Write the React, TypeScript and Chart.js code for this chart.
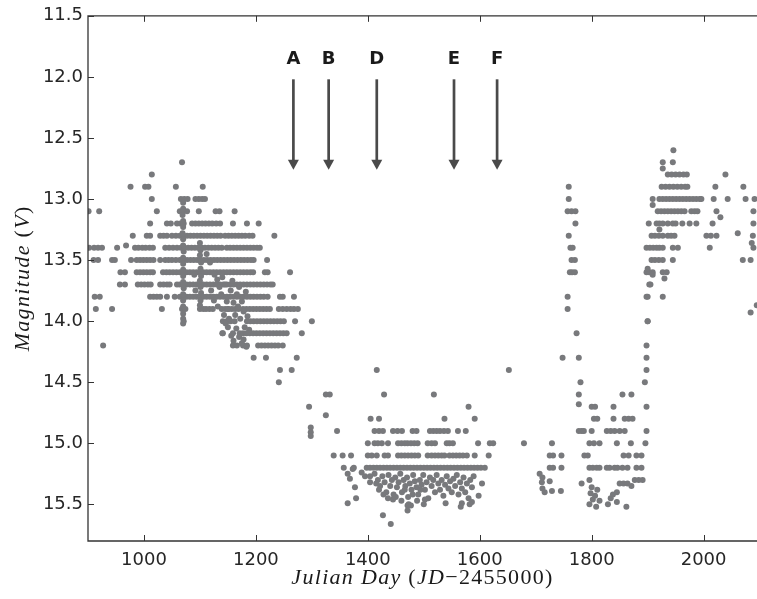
import React, { useEffect, useRef } from "react";
import { Chart, registerables } from "chart.js";

Chart.register(...registerables);

// ---------- axes ----------
const X_MIN = 900;
const X_MAX = 2095.4;
const Y_MIN = 11.5;
const Y_MAX = 15.8;
const xTickValues = [1000, 1200, 1400, 1600, 1800, 2000];
const yTickValues = [11.5, 12.0, 12.5, 13.0, 13.5, 14.0, 14.5, 15.0, 15.5];

// ---------- event markers ----------
const markerLabels = ["A", "B", "D", "E", "F"];
const markerDays = [1267, 1330, 1416, 1554, 1631];
const arrowTopMag = 12.02;
const arrowTipMag = 12.76;
const markerLabelMag = 11.855;

// ---------- observations: [magnitude, days[]] rows and free [day, mag] points ----------
const season1Rows: Array<[number, number[]]> = [
  [12.7, [1068]],
  [12.8, [1014]],
  [12.9, [976, 1002, 1008, 1057, 1105]],
  [13.0, [1014, 1066, 1072, 1078, 1092, 1098, 1104, 1109]],
  [13.1, [901, 920, 1023, 1064, 1070, 1077, 1098, 1128, 1135, 1162]],
  [13.2, [1011, 1041, 1048, 1059, 1065, 1071, 1086, 1092, 1098, 1104, 1110, 1116, 1122, 1129, 1136, 1159, 1184, 1205]],
  [13.3, [980, 1005, 1011, 1029, 1035, 1041, 1050, 1057, 1064, 1070, 1077, 1083, 1089, 1095, 1101, 1107, 1113, 1119, 1125, 1131, 1137, 1145, 1151, 1157, 1163, 1169, 1175, 1181, 1188, 1194, 1233]],
  [13.4, [902, 911, 918, 925, 952, 984, 990, 997, 1003, 1010, 1016, 1038, 1045, 1052, 1059, 1066, 1072, 1079, 1085, 1091, 1097, 1103, 1109, 1115, 1121, 1127, 1133, 1139, 1148, 1154, 1160, 1166, 1172, 1178, 1184, 1190, 1196, 1202, 1207]],
  [13.5, [910, 918, 943, 948, 977, 987, 993, 999, 1005, 1011, 1017, 1029, 1038, 1044, 1050, 1057, 1064, 1070, 1077, 1083, 1089, 1095, 1101, 1107, 1113, 1119, 1125, 1131, 1137, 1143, 1149, 1155, 1161, 1167, 1173, 1179, 1185, 1191, 1196, 1220]],
  [13.6, [958, 966, 987, 993, 999, 1005, 1011, 1016, 1034, 1040, 1046, 1052, 1058, 1064, 1070, 1076, 1082, 1088, 1094, 1100, 1106, 1112, 1118, 1124, 1130, 1136, 1142, 1148, 1154, 1160, 1166, 1172, 1178, 1184, 1190, 1195, 1216, 1221, 1261]],
  [13.7, [957, 966, 989, 995, 1001, 1007, 1012, 1029, 1035, 1041, 1046, 1059, 1064, 1070, 1076, 1082, 1088, 1094, 1100, 1106, 1112, 1118, 1124, 1130, 1136, 1142, 1148, 1154, 1160, 1166, 1172, 1178, 1184, 1190, 1196, 1202, 1208, 1214, 1220, 1226, 1230]],
  [13.8, [912, 921, 1011, 1017, 1023, 1029, 1041, 1055, 1064, 1070, 1076, 1082, 1088, 1094, 1100, 1106, 1112, 1118, 1124, 1130, 1136, 1142, 1148, 1154, 1160, 1166, 1172, 1178, 1184, 1190, 1196, 1202, 1208, 1214, 1221, 1243, 1248, 1268]],
  [13.9, [914, 943, 1032, 1068, 1074, 1100, 1106, 1111, 1117, 1123, 1139, 1145, 1151, 1157, 1163, 1169, 1177, 1183, 1189, 1195, 1201, 1207, 1213, 1219, 1225, 1241, 1248, 1255, 1262, 1268, 1275]],
  [14.0, [1071, 1141, 1148, 1155, 1162, 1184, 1190, 1196, 1202, 1208, 1214, 1220, 1226, 1232, 1238, 1244, 1250, 1270, 1300]],
  [14.1, [1141, 1159, 1171, 1177, 1183, 1189, 1195, 1201, 1207, 1213, 1219, 1225, 1231, 1237, 1243, 1249, 1255, 1282]],
  [14.2, [927, 1159, 1166, 1177, 1184, 1204, 1210, 1216, 1222, 1228, 1234, 1240, 1248]],
  [14.3, [1196, 1218, 1273]],
  [14.4, [1243, 1264]],
  [14.5, [1241]],
];

const season1Free: Array<[number, number]> = [
  [1070, 13.03], [1070, 13.08], [1069, 13.13], [1070, 13.18], [1070, 13.23], [1069, 13.28], [1070, 13.33],
  [1070, 13.38], [1071, 13.43], [1070, 13.48], [1070, 13.53], [1070, 13.58], [1070, 13.63], [1070, 13.68],
  [1071, 13.73], [1070, 13.78], [1070, 13.83], [1070, 13.88], [1070, 13.94], [1070, 13.98], [1070, 14.02],
  [1100, 13.36], [1101, 13.42], [1100, 13.46], [1102, 13.52], [1101, 13.57], [1102, 13.63], [1100, 13.67],
  [1101, 13.72], [1102, 13.77], [1101, 13.83], [1100, 13.87],
  [1112, 13.45], [1118, 13.52], [1126, 13.62], [1131, 13.66], [1135, 13.72], [1140, 13.64], [1138, 13.78],
  [1145, 13.7], [1148, 13.84], [1150, 13.9], [1155, 13.75], [1158, 13.67], [1160, 13.85], [1163, 13.95],
  [1166, 13.78], [1168, 13.88], [1170, 13.72], [1172, 13.98], [1175, 13.84], [1178, 13.92], [1180, 14.05],
  [1182, 13.76], [1185, 13.96], [1188, 14.07], [1143, 13.95], [1146, 14.02], [1150, 14.05], [1152, 13.98],
  [1156, 14.12], [1160, 14.16], [1165, 14.06], [1170, 14.13], [1175, 14.18], [1183, 14.21], [1178, 14.15],
  [1125, 13.83], [1132, 13.88], [1120, 13.75], [1090, 13.62], [1092, 13.75], [968, 13.38], [1140, 14.1],
];

const season2Rows: Array<[number, number[]]> = [
  [14.4, [1416]],
  [14.6, [1325, 1332, 1429, 1518]],
  [14.7, [1295, 1580]],
  [14.8, [1405, 1420, 1537, 1591]],
  [14.9, [1345, 1412, 1420, 1427, 1445, 1453, 1461, 1480, 1487, 1511, 1517, 1523, 1529, 1536, 1543, 1561, 1575]],
  [15.0, [1400, 1412, 1418, 1425, 1436, 1454, 1460, 1466, 1471, 1477, 1483, 1489, 1507, 1514, 1520, 1541, 1546, 1552, 1597, 1618, 1624]],
  [15.1, [1339, 1355, 1370, 1400, 1407, 1416, 1430, 1436, 1454, 1460, 1466, 1472, 1478, 1484, 1490, 1507, 1514, 1520, 1526, 1532, 1537, 1546, 1552, 1558, 1564, 1570, 1577, 1591, 1616]],
  [15.2, [1357, 1375, 1398, 1404, 1410, 1416, 1422, 1428, 1434, 1440, 1446, 1452, 1458, 1464, 1470, 1476, 1482, 1488, 1494, 1500, 1506, 1512, 1518, 1524, 1530, 1536, 1542, 1548, 1554, 1560, 1566, 1572, 1578, 1584, 1590, 1596, 1602, 1609]],
];

const season2Free: Array<[number, number]> = [
  [1298, 14.87], [1298, 14.91], [1298, 14.94], [1325, 14.77],
  [1364, 15.25], [1368, 15.29], [1373, 15.21], [1389, 15.24], [1395, 15.27], [1404, 15.27], [1404, 15.32],
  [1377, 15.36], [1364, 15.49], [1379, 15.45],
  [1412, 15.25], [1418, 15.3], [1422, 15.35], [1426, 15.27], [1430, 15.32], [1433, 15.4], [1437, 15.26],
  [1440, 15.35], [1443, 15.3], [1446, 15.42], [1449, 15.28], [1452, 15.36], [1455, 15.32], [1458, 15.25],
  [1461, 15.4], [1464, 15.3], [1467, 15.35], [1470, 15.28], [1472, 15.44], [1475, 15.33], [1478, 15.38],
  [1481, 15.26], [1484, 15.31], [1487, 15.36], [1490, 15.42], [1493, 15.3], [1496, 15.34], [1499, 15.26],
  [1502, 15.38], [1505, 15.32], [1508, 15.45], [1511, 15.28], [1514, 15.35], [1517, 15.3], [1520, 15.4],
  [1523, 15.26], [1526, 15.33], [1529, 15.38], [1532, 15.3], [1535, 15.43], [1538, 15.34], [1541, 15.27],
  [1544, 15.37], [1547, 15.31], [1550, 15.4], [1553, 15.29], [1556, 15.35], [1559, 15.26], [1562, 15.42],
  [1565, 15.32], [1568, 15.37], [1571, 15.28], [1574, 15.4], [1577, 15.33], [1580, 15.45], [1583, 15.3],
  [1586, 15.36], [1589, 15.27], [1445, 15.46], [1471, 15.51], [1427, 15.59], [1441, 15.66], [1473, 15.5],
  [1477, 15.51], [1502, 15.46], [1539, 15.49], [1568, 15.49], [1586, 15.48], [1598, 15.43], [1604, 15.33],
  [1471, 15.55], [1500, 15.5], [1566, 15.52], [1582, 15.5], [1415, 15.33], [1420, 15.38], [1428, 15.42],
  [1436, 15.45], [1450, 15.44], [1460, 15.47], [1466, 15.38], [1480, 15.42], [1488, 15.47], [1494, 15.38],
];

const season3Rows: Array<[number, number[]]> = [
  [12.9, [1759]],
  [13.0, [1759]],
  [13.1, [1757, 1764, 1771]],
  [13.2, [1771]],
  [13.3, [1759]],
  [13.4, [1762, 1766]],
  [13.5, [1764, 1770]],
  [13.6, [1761, 1765, 1770]],
  [13.8, [1757]],
  [13.9, [1757]],
  [14.1, [1773]],
  [14.3, [1748, 1777]],
  [14.4, [1652]],
  [14.5, [1780]],
  [14.6, [1777, 1855, 1871]],
  [14.7, [1800, 1806, 1839]],
  [14.8, [1804, 1810, 1839, 1859, 1866, 1873]],
  [14.9, [1777, 1782, 1786, 1800, 1827, 1834, 1841, 1850, 1859]],
  [15.0, [1679, 1729, 1796, 1804, 1814, 1845, 1870]],
  [15.1, [1725, 1731, 1746, 1787, 1793, 1857, 1866, 1880, 1889]],
  [15.2, [1725, 1731, 1746, 1796, 1802, 1809, 1814, 1827, 1832, 1841, 1846, 1855, 1864, 1880, 1889]],
];

const season3Free: Array<[number, number]> = [
  [1707, 15.25], [1712, 15.28], [1711, 15.32], [1725, 15.31], [1712, 15.37], [1716, 15.4], [1729, 15.39],
  [1745, 15.39], [1777, 14.68], [1782, 15.33], [1796, 15.3], [1800, 15.36], [1798, 15.41], [1802, 15.46],
  [1796, 15.5], [1806, 15.43], [1810, 15.38], [1808, 15.52], [1814, 15.47], [1829, 15.5], [1834, 15.45],
  [1838, 15.42], [1845, 15.4], [1850, 15.33], [1857, 15.33], [1864, 15.33], [1871, 15.35], [1877, 15.3],
  [1884, 15.3], [1891, 15.3], [1862, 15.52], [1845, 15.48],
  [1896, 15.0], [1898, 14.9], [1898, 14.7], [1895, 14.5], [1898, 14.4], [1898, 14.3], [1898, 14.2],
  [1900, 14.0], [1898, 13.8], [1903, 13.7],
];

const season4Rows: Array<[number, number[]]> = [
  [12.6, [1946]],
  [12.7, [1927, 1945]],
  [12.8, [1936, 1943, 1950, 1957, 1964, 1970, 2039]],
  [12.9, [1925, 1932, 1939, 1946, 1953, 1960, 1967, 1971, 2021, 2071]],
  [13.0, [1921, 1927, 1933, 1939, 1945, 1951, 1957, 1963, 1969, 1975, 1981, 1987, 1993, 1996, 2018, 2043, 2075, 2091]],
  [13.1, [1918, 1924, 1930, 1936, 1942, 1948, 1954, 1960, 1966, 1978, 1984, 1989, 2023, 2089]],
  [13.2, [1902, 1916, 1921, 1927, 1936, 1945, 1950, 1962, 1975, 1987, 2016, 2089]],
  [13.3, [1907, 1913, 1920, 1927, 1936, 1942, 1948, 2005, 2013, 2023, 2088]],
  [13.4, [1898, 1904, 1910, 1916, 1921, 1927, 1945, 1954, 2011, 2089]],
  [13.5, [1907, 1913, 1920, 1927, 1945, 2070, 2084]],
  [13.6, [1898, 1903, 1909, 1927, 1934]],
  [13.7, [1905]],
  [13.8, [1900, 1927]],
  [14.0, [1900]],
];

const season4Free: Array<[number, number]> = [
  [1927, 12.75], [1909, 13.0], [1909, 13.05], [2030, 13.15], [1921, 13.25], [2061, 13.28],
  [2086, 13.36], [2084, 13.93], [2095, 13.87], [1909, 13.62], [1900, 13.57], [1930, 13.65],
];

// ---------- styling ----------
const POINT_COLOR = "#78797c";
const AXIS_COLOR = "#333333";
const TEXT_COLOR = "#262626";
const W = 757;
const H = 599;

type Pt = { x: number; y: number };
const fromRows = (rows: Array<[number, number[]]>): Pt[] =>
  rows.flatMap(([m, days]) => days.map((d) => ({ x: d, y: m })));
const fromPairs = (pairs: Array<[number, number]>): Pt[] => pairs.map(([d, m]) => ({ x: d, y: m }));

type Seg = [string, boolean];
const xTitleSegs: Seg[] = [["Julian Day ", true], ["(", false], ["JD", true], ["\u22122455000)", false]];
const yTitleSegs: Seg[] = [["Magnitude ", true], ["(", false], ["V", true], [")", false]];
const TITLE_SIZE = 22;

function drawSegs(ctx: any, segs: Seg[], cx: number, by: number) {
  const fontFor = (it: boolean) => `${it ? "italic " : ""}${TITLE_SIZE}px 'Liberation Serif', serif`;
  ctx.letterSpacing = "1.3px";
  let total = 0;
  const widths = segs.map(([t, it]) => {
    ctx.font = fontFor(it);
    const w = ctx.measureText(t).width;
    total += w;
    return w;
  });
  let x = cx - total / 2;
  ctx.textAlign = "left";
  ctx.textBaseline = "alphabetic";
  segs.forEach(([t, it], i) => {
    ctx.font = fontFor(it);
    ctx.fillText(t, x, by);
    x += widths[i];
  });
  ctx.letterSpacing = "0px";
}

const decorPlugin = {
  id: "decor",
  afterDraw(chart: any) {
    const { ctx, chartArea: a, scales } = chart;
    const xs = scales.x;
    const ys = scales.y;
    ctx.save();
    // spines (right spine lies outside the picture)
    ctx.strokeStyle = AXIS_COLOR;
    ctx.lineWidth = 1.3;
    ctx.beginPath();
    ctx.moveTo(W + 5, a.top);
    ctx.lineTo(a.left, a.top);
    ctx.lineTo(a.left, a.bottom);
    ctx.lineTo(W + 5, a.bottom);
    ctx.stroke();
    // inward ticks
    ctx.lineWidth = 1;
    ctx.beginPath();
    const tl = 6;
    xTickValues.forEach((v) => {
      const px = Math.round(xs.getPixelForValue(v)) + 0.5;
      ctx.moveTo(px, a.bottom);
      ctx.lineTo(px, a.bottom - tl);
      ctx.moveTo(px, a.top);
      ctx.lineTo(px, a.top + tl);
    });
    yTickValues.forEach((v) => {
      const py = Math.round(ys.getPixelForValue(v)) + 0.5;
      ctx.moveTo(a.left, py);
      ctx.lineTo(a.left + tl, py);
    });
    ctx.stroke();

    // arrows and labels
    markerDays.forEach((d, i) => {
      const px = xs.getPixelForValue(d);
      const y0 = ys.getPixelForValue(arrowTopMag);
      const y1 = ys.getPixelForValue(arrowTipMag);
      const head = 10;
      ctx.strokeStyle = "#4a4a4a";
      ctx.fillStyle = "#4a4a4a";
      ctx.lineWidth = 2.7;
      ctx.beginPath();
      ctx.moveTo(px, y0);
      ctx.lineTo(px, y1 - head + 1);
      ctx.stroke();
      ctx.beginPath();
      ctx.moveTo(px - 5.5, y1 - head);
      ctx.lineTo(px + 5.5, y1 - head);
      ctx.lineTo(px, y1);
      ctx.closePath();
      ctx.fill();
      ctx.fillStyle = "#1a1a1a";
      ctx.font = "bold 18px 'DejaVu Sans', sans-serif";
      ctx.textAlign = "center";
      ctx.textBaseline = "middle";
      ctx.fillText(markerLabels[i], px, ys.getPixelForValue(markerLabelMag));
    });

    // axis titles
    ctx.fillStyle = "#1a1a1a";
    drawSegs(ctx, xTitleSegs, 422.5, 584);
    ctx.save();
    ctx.translate(29, (a.top + a.bottom) / 2);
    ctx.rotate(-Math.PI / 2);
    drawSegs(ctx, yTitleSegs, 0, 0);
    ctx.restore();
    ctx.restore();
  },
};

export default function App() {
  const canvasRef = useRef<HTMLCanvasElement | null>(null);

  useEffect(() => {
    const canvas = canvasRef.current;
    if (!canvas) return;
    const mk = (data: Pt[]) => ({
      data,
      pointRadius: 3,
      pointHoverRadius: 3,
      pointBackgroundColor: POINT_COLOR,
      pointBorderWidth: 0,
      borderWidth: 0,
      showLine: false,
    });
    const chart = new Chart(canvas, {
      type: "scatter",
      data: {
        datasets: [
          mk([...fromRows(season1Rows), ...fromPairs(season1Free)]),
          mk([...fromRows(season2Rows), ...fromPairs(season2Free)]),
          mk([...fromRows(season3Rows), ...fromPairs(season3Free)]),
          mk([...fromRows(season4Rows), ...fromPairs(season4Free)]),
        ],
      },
      options: {
        animation: false,
        responsive: false,
        events: [],
        layout: { autoPadding: false, padding: { top: 15, right: 0, left: 0, bottom: 0 } },
        plugins: { legend: { display: false }, tooltip: { enabled: false } },
        scales: {
          x: {
            type: "linear",
            min: X_MIN,
            max: X_MAX,
            grid: { display: false, drawTicks: false, tickLength: 0 },
            border: { display: false },
            afterBuildTicks: (s: any) => {
              s.ticks = xTickValues.map((v) => ({ value: v }));
            },
            afterFit: (s: any) => {
              s.height = 58;
            },
            ticks: {
              autoSkip: false,
              maxRotation: 0,
              padding: 9,
              color: TEXT_COLOR,
              font: { family: "'DejaVu Sans'", size: 18 },
              callback: (v: any) => String(v),
            },
          },
          y: {
            type: "linear",
            reverse: true,
            min: Y_MIN,
            max: Y_MAX,
            grid: { display: false, drawTicks: false, tickLength: 0 },
            border: { display: false },
            afterBuildTicks: (s: any) => {
              s.ticks = yTickValues.map((v) => ({ value: v }));
            },
            afterFit: (s: any) => {
              s.width = 88;
            },
            ticks: {
              autoSkip: false,
              padding: 5,
              color: TEXT_COLOR,
              font: { family: "'DejaVu Sans'", size: 18 },
              callback: (v: any) => Number(v).toFixed(1),
            },
          },
        },
      },
      plugins: [decorPlugin],
    });
    return () => chart.destroy();
  }, []);

  return (
    <div style={{ position: "fixed", left: 0, top: 0, width: W, height: H, overflow: "hidden", background: "#fff" }}>
      <canvas ref={canvasRef} width={W} height={H} style={{ display: "block", width: W, height: H }} />
    </div>
  );
}
